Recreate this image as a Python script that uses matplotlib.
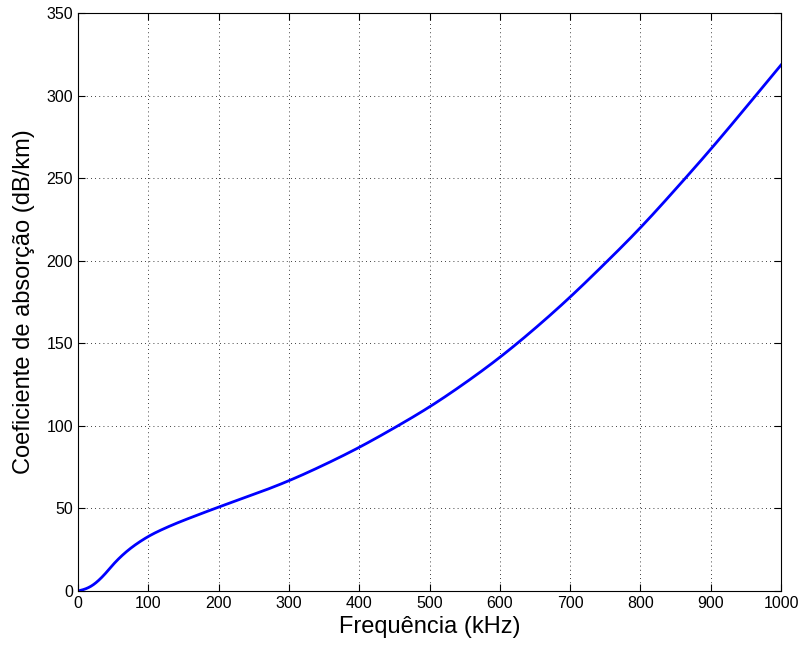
import matplotlib
matplotlib.use("Agg")
import matplotlib.pyplot as plt
import numpy as np

plt.rcParams['font.family'] = ['Liberation Sans', 'DejaVu Sans']

freq_khz = [0, 10, 20, 30, 40, 50, 60, 70, 80, 90, 100, 120, 140, 170, 200,
            250, 300, 350, 400, 450, 500, 550, 600, 650, 700, 750, 800, 850,
            900, 950, 1000]
absorption_db_km = [0, 1.2, 3.3, 6.7, 11.1, 16.0, 20.4, 24.2, 27.5, 30.4, 33.0,
                    37.3, 41.0, 46.0, 50.8, 58.5, 66.8, 76.4, 87.0, 98.8, 111.5,
                    125.8, 141.5, 159.0, 178.0, 198.5, 220.0, 243.3, 267.5,
                    292.8, 318.5]

xticks = [0, 100, 200, 300, 400, 500, 600, 700, 800, 900, 1000]
yticks = [0, 50, 100, 150, 200, 250, 300, 350]


def natural_spline(x, y, xs):
    x = np.asarray(x, float)
    y = np.asarray(y, float)
    n = len(x)
    h = np.diff(x)
    A = np.zeros((n, n))
    b = np.zeros(n)
    A[0, 0] = 1
    A[-1, -1] = 1
    for i in range(1, n - 1):
        A[i, i - 1] = h[i - 1]
        A[i, i] = 2 * (h[i - 1] + h[i])
        A[i, i + 1] = h[i]
        b[i] = 6 * ((y[i + 1] - y[i]) / h[i] - (y[i] - y[i - 1]) / h[i - 1])
    M = np.linalg.solve(A, b)
    idx = np.clip(np.searchsorted(x, xs) - 1, 0, n - 2)
    x0, x1 = x[idx], x[idx + 1]
    hh = x1 - x0
    t0 = x1 - xs
    t1 = xs - x0
    return (M[idx] * t0**3 / (6 * hh) + M[idx + 1] * t1**3 / (6 * hh)
            + (y[idx] / hh - M[idx] * hh / 6) * t0
            + (y[idx + 1] / hh - M[idx + 1] * hh / 6) * t1)


fig = plt.figure(figsize=(8.01, 6.48), dpi=100)
ax = fig.add_axes([78/801, 57/648, (781-78)/801, (591-13)/648])

xs = np.linspace(0, 1000, 2001)
ys = natural_spline(freq_khz, absorption_db_km, xs)
ax.plot(xs, ys, color='#0000ff', linewidth=2.0)

ax.set_xlim(0, 1000)
ax.set_ylim(0, 350)
ax.set_xticks(xticks)
ax.set_yticks(yticks)
ax.tick_params(direction='in', top=True, right=True, labelsize=11.5, length=5, width=0.8)
ax.grid(True, linestyle=(0, (1, 4)), color='black', linewidth=0.6)
for s in ax.spines.values():
    s.set_linewidth(0.8)
ax.set_xlabel('Frequência (kHz)', fontsize=17, labelpad=4)
ax.set_ylabel('Coeficiente de absorção (dB/km)', fontsize=17, labelpad=8)

fig.savefig('out.png', dpi=100)
